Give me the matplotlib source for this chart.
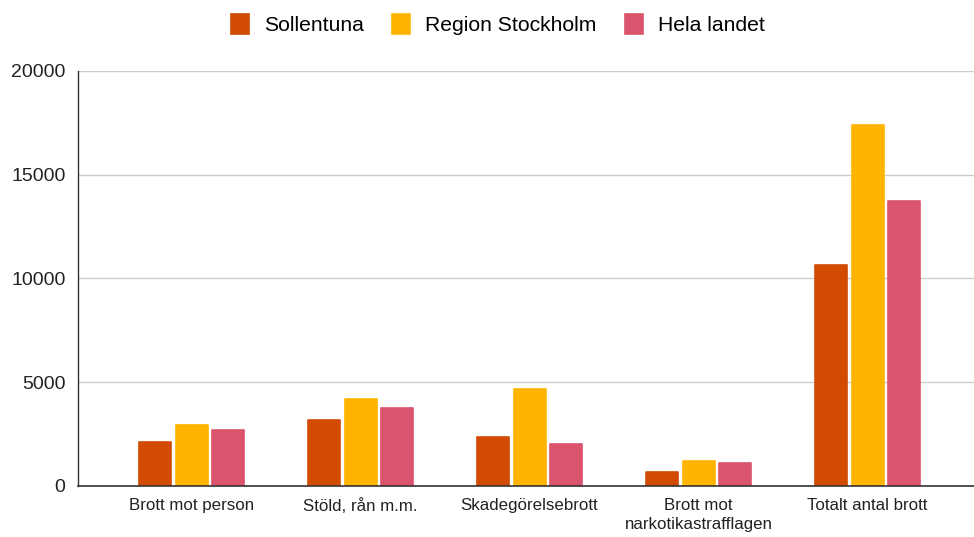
import numpy as np
import matplotlib.pyplot as plt

plt.rcParams['font.family'] = ['Liberation Sans', 'DejaVu Sans']

categories = ['Brott mot person', 'Stöld, rån m.m.', 'Skadegörelsebrott',
              'Brott mot\nnarkotikastrafflagen', 'Totalt antal brott']
series_names = ['Sollentuna', 'Region Stockholm', 'Hela landet']
sollentuna = [2110, 3180, 2350, 690, 10650]
region_stockholm = [2940, 4180, 4680, 1190, 17400]
hela_landet = [2690, 3760, 2030, 1110, 13730]
y_ticks = [0, 5000, 10000, 15000, 20000]

colors = ['#D14B02', '#FFB500', '#DB546D']

fig = plt.figure(figsize=(9.74, 5.37), dpi=100)
ax = fig.add_axes([0.0801, 0.095, 0.92, 0.7728])

x = np.arange(len(categories))
width = 0.19
step = 0.216
for i, (vals, name) in enumerate(zip([sollentuna, region_stockholm, hela_landet], series_names)):
    ax.bar(x + (i - 1) * step, vals, width, color=colors[i], label=name, zorder=3,
           edgecolor=colors[i], linewidth=1.2, joinstyle='round')

ax.set_xlim(-0.672, 4.63)
ax.set_ylim(0, 20000)
ax.set_yticks(y_ticks)
ax.set_yticklabels([str(t) for t in y_ticks], fontsize=14, color='#222222')
ax.set_xticks(x)
ax.set_xticklabels(categories, fontsize=12.2, color='#222222', linespacing=1.3)
ax.tick_params(axis='both', length=0)
ax.tick_params(axis='y', pad=9)
ax.tick_params(axis='x', pad=9)

ax.yaxis.grid(True, color='#cccccc', linewidth=1, zorder=0)
for s in ['top', 'right']:
    ax.spines[s].set_visible(False)
ax.spines['left'].set_color('#333333')
ax.spines['bottom'].set_color('#333333')
ax.spines['left'].set_linewidth(1)
ax.spines['bottom'].set_linewidth(1.2)
ax.spines['bottom'].set_zorder(4)

fig.legend(loc='center', bbox_to_anchor=(0.511, 0.955), ncol=3, frameon=False,
           fontsize=15.2, handlelength=0.86, handleheight=1.1, columnspacing=1.35,
           handletextpad=0.7)

fig.savefig('out.png', dpi=100)
